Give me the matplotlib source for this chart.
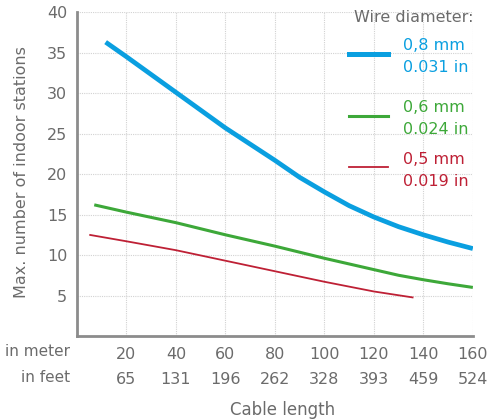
import matplotlib.pyplot as plt

# cable length (m) and max. number of indoor stations per wire diameter
x_08 = [11.6, 20, 30, 40, 50, 60, 70, 80, 90, 100, 110, 120, 130, 140, 150, 160]
y_08 = [36.3, 34.5, 32.3, 30.1, 27.9, 25.7, 23.7, 21.7, 19.6, 17.8, 16.1, 14.7,
        13.5, 12.5, 11.6, 10.8]
x_06 = [7, 20, 30, 40, 50, 60, 70, 80, 90, 100, 110, 120, 130, 140, 150, 160]
y_06 = [16.2, 15.3, 14.65, 14.0, 13.25, 12.5, 11.8, 11.1, 10.35, 9.6, 8.9, 8.2,
        7.5, 6.95, 6.45, 6.0]
x_05 = [5, 20, 40, 60, 80, 100, 120, 136]
y_05 = [12.5, 11.7, 10.6, 9.3, 8.0, 6.7, 5.5, 4.75]

meters = [20, 40, 60, 80, 100, 120, 140, 160]
feet = ['65', '131', '196', '262', '328', '393', '459', '524']
yticks = [5, 10, 15, 20, 25, 30, 35, 40]

blue = '#0a9fe0'
green = '#3da839'
red = '#be2035'
grey = '#6b6b6b'

plt.rcParams['font.family'] = ['DejaVu Sans']

fig = plt.figure(figsize=(4.9, 4.2), dpi=100)
ax = fig.add_axes([0.157, 0.2, 0.808, 0.771])

ax.plot(x_08, y_08, color=blue, lw=3.4, solid_capstyle='butt', solid_joinstyle='round')
ax.plot(x_06, y_06, color=green, lw=2.2, solid_capstyle='butt', solid_joinstyle='round')
ax.plot(x_05, y_05, color=red, lw=1.3, solid_capstyle='butt', solid_joinstyle='round')

ax.set_xlim(0, 160)
ax.set_ylim(0, 40)
ax.set_xticks(meters)
ax.set_xticklabels([str(m) for m in meters])
ax.set_yticks(yticks)
ax.tick_params(length=0, labelsize=11.5, labelcolor=grey, pad=7)
ax.tick_params(axis='x', pad=8)
ax.grid(True, color='#d2d2d2', linestyle=(0, (1, 1)), lw=0.8)
for s in ['top', 'right']:
    ax.spines[s].set_visible(False)
for s in ['left', 'bottom']:
    ax.spines[s].set_color('#8c8c8c')
    ax.spines[s].set_linewidth(2)

trans = ax.get_xaxis_transform()
for m, f in zip(meters, feet):
    ax.text(m, -0.135, f, transform=trans, ha='center', va='center',
            fontsize=11.5, color=grey)
fig.text(70 / 490, 1 - 351 / 420, 'in meter', ha='right', va='center',
         fontsize=11, color=grey)
fig.text(70 / 490, 1 - 377 / 420, 'in feet', ha='right', va='center',
         fontsize=11, color=grey)
fig.text(283 / 490, 1 - 410 / 420, 'Cable length', ha='center', va='center',
         fontsize=12, color=grey)
fig.text(22 / 490, 1 - 172 / 420, 'Max. number of indoor stations',
         rotation=90, ha='center', va='center', fontsize=11.5, color=grey)

# legend drawn by hand
fig.text(473 / 490, 1 - 18 / 420, 'Wire diameter:', ha='right', va='center',
         fontsize=11.5, color=grey)
entries = [(blue, 3.6, '0,8 mm', '0.031 in', 54),
           (green, 2.2, '0,6 mm', '0.024 in', 116),
           (red, 1.3, '0,5 mm', '0.019 in', 167)]
for col, lw, mm, inch, yl in entries:
    fig.add_artist(plt.Line2D([349 / 490, 388 / 490], [1 - yl / 420, 1 - yl / 420],
                              color=col, lw=lw, transform=fig.transFigure))
    fig.text(403 / 490, 1 - (yl - 8) / 420, mm, ha='left', va='center',
             fontsize=11.5, color=col)
    fig.text(403 / 490, 1 - (yl + 14) / 420, inch, ha='left', va='center',
             fontsize=11.5, color=col)

fig.savefig('out.png', dpi=100)
